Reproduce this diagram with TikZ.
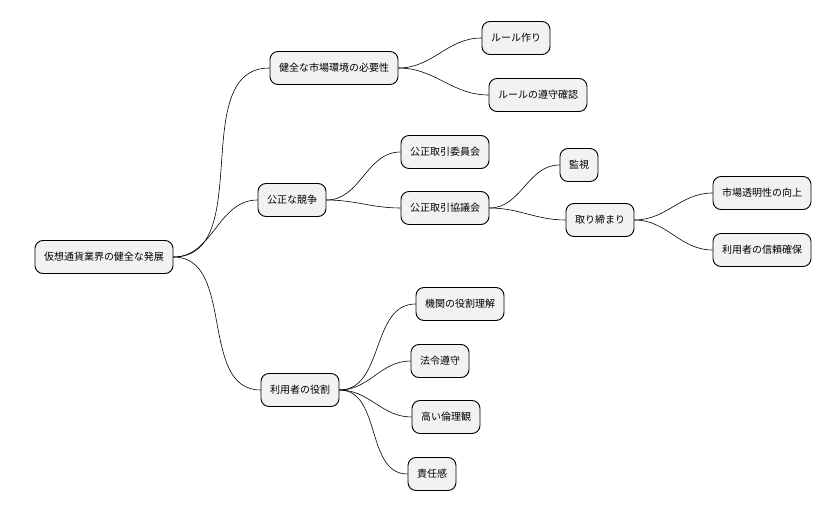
\documentclass[tikz,border=0pt]{standalone}
\usepackage{fontspec}
\setmainfont{Noto Sans CJK JP}
\usetikzlibrary{positioning}
\tikzset{
    topic/.style = {
        draw,
        shape=rectangle,
        rounded corners=8pt,
        fill=gray!10,
        minimum height=33pt,
        inner xsep=9pt,
        line width=0.9pt,
        font=\fontsize{10}{12}\selectfont
    },
    branch/.style = {
        draw,
        line width=0.6pt,
        out=0,
        in=180
    },
}
\begin{document}
\begin{tikzpicture}[x=1pt,y=-1pt]
    \useasboundingbox (0,0) rectangle (838,513);
    \node[topic] (root) at (104,257) {仮想通貨業界の健全な発展};

    \node[topic] (market) at (334,68) {健全な市場環境の必要性};
    \node[topic] (rules) at (516,38) {ルール作り};
    \node[topic] (comply) at (538,95) {ルールの遵守確認};

    \node[topic] (compete) at (292,200) {公正な競争};
    \node[topic] (jftc) at (445,152) {公正取引委員会};
    \node[topic] (council) at (445,208) {公正取引協議会};
    \node[topic] (watch) at (579,165) {監視};
    \node[topic] (enforce) at (600,220) {取り締まり};
    \node[topic] (transp) at (762,193) {市場透明性の向上};
    \node[topic] (trust) at (762,250) {利用者の信頼確保};

    \node[topic] (users) at (300,390) {利用者の役割};
    \node[topic] (roles) at (460,304) {機関の役割理解};
    \node[topic] (law) at (440,361) {法令遵守};
    \node[topic] (ethics) at (446,417) {高い倫理観};
    \node[topic] (duty) at (432,474) {責任感};

    % root to topics
    \foreach \t in {market,compete,users}
        \draw[branch] (root.east) to (\t.west);
    \foreach \t in {rules,comply}
        \draw[branch] (market.east) to (\t.west);
    \foreach \t in {jftc,council}
        \draw[branch] (compete.east) to (\t.west);
    \foreach \t in {watch,enforce}
        \draw[branch] (council.east) to (\t.west);
    \foreach \t in {transp,trust}
        \draw[branch] (enforce.east) to (\t.west);
    \foreach \t in {roles,law,ethics,duty}
        \draw[branch] (users.east) to (\t.west);
\end{tikzpicture}
\end{document}
